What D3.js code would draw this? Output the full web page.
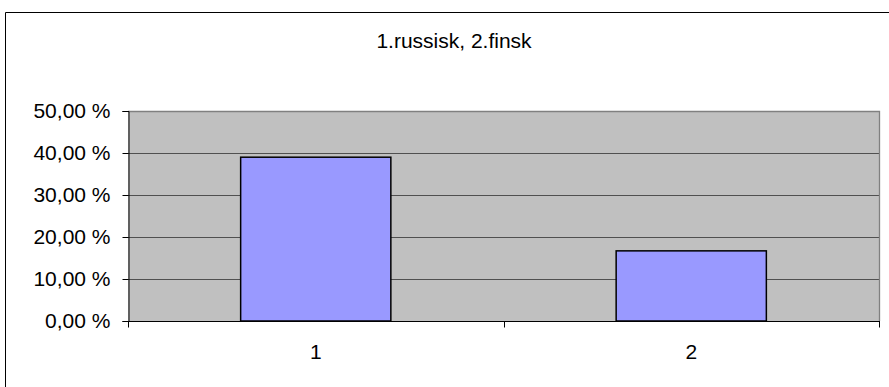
<!DOCTYPE html>
<html>
<head>
<meta charset="utf-8">
<script src="https://cdn.jsdelivr.net/npm/d3@7"></script>
<style>
  html, body { margin: 0; padding: 0; background: #fff; overflow: hidden; }
  svg { display: block; }
  text { font-family: "Liberation Sans", Arial, sans-serif; fill: #000; }
</style>
</head>
<body>
<svg id="chart" width="889" height="387"></svg>
<script>
// Share of respondents per language
const title = "1.russisk, 2.finsk";
const categories = ["1", "2"];
const values = [39.0, 16.7];
const yTicks = [0, 10, 20, 30, 40, 50];

const svg = d3.select("#chart");

// chart frame: only the left and top edges fall inside the view
svg.append("path")
  .attr("d", "M5.5,387V12.5H889")
  .attr("fill", "none").attr("stroke", "#000").attr("stroke-width", 1);

const plot = { left: 128, right: 879, top: 111, bottom: 321 };

const x = d3.scaleBand()
  .domain(categories)
  .range([plot.left, plot.right])
  .padding(0);

const y = d3.scaleLinear()
  .domain([0, 50])
  .range([plot.bottom, plot.top]);

// plot background
svg.append("rect")
  .attr("x", plot.left).attr("y", plot.top)
  .attr("width", plot.right - plot.left).attr("height", plot.bottom - plot.top)
  .attr("fill", "#c0c0c0");

// gridlines (the top one coincides with the grey plot border)
svg.append("g")
  .selectAll("line")
  .data(yTicks.filter(d => d > 0 && d < 50))
  .join("line")
  .attr("x1", plot.left).attr("x2", plot.right)
  .attr("y1", d => Math.round(y(d)) + 0.5)
  .attr("y2", d => Math.round(y(d)) + 0.5)
  .attr("stroke", "#505050").attr("stroke-width", 1);

// top and right edges of plot area
svg.append("path")
  .attr("d", `M${plot.left},${plot.top + 0.5}H${plot.right + 0.5}V${plot.bottom}`)
  .attr("fill", "none")
  .attr("stroke", "#808080").attr("stroke-width", 1.3);

// bars, 40% of each category band
const barFrac = 0.4;
svg.append("g")
  .selectAll("rect")
  .data(categories.map((c, i) => ({ c, v: values[i] })))
  .join("rect")
  .attr("x", d => x(d.c) + x.bandwidth() * (1 - barFrac) / 2)
  .attr("width", x.bandwidth() * barFrac)
  .attr("y", d => y(d.v))
  .attr("height", d => y(0) - y(d.v))
  .attr("fill", "#9999ff")
  .attr("stroke", "#000")
  .attr("stroke-width", 1.5);

// y axis
const fmt = d => d.toFixed(2).replace(".", ",") + " %";
const yAxis = svg.append("g")
  .attr("transform", `translate(${plot.left + 0.5},0)`)
  .call(d3.axisLeft(y).tickValues(yTicks).tickFormat(fmt).tickSize(6).tickPadding(12));
yAxis.select(".domain").attr("stroke", "#000");
yAxis.selectAll(".tick line").attr("stroke", "#000");
yAxis.selectAll("text")
  .attr("font-size", 21)
  .attr("font-family", "Liberation Sans, Arial, sans-serif")
  .attr("fill", "#000");

// x axis, tick marks sit at the category boundaries
const xAxisG = svg.append("g")
  .attr("transform", `translate(0,${plot.bottom + 0.5})`);
xAxisG.append("line")
  .attr("x1", plot.left).attr("x2", plot.right + 1)
  .attr("stroke", "#000");
const boundaries = categories.map(c => x(c)).concat([plot.right]);
xAxisG.selectAll("line.b")
  .data(boundaries)
  .join("line")
  .attr("class", "b")
  .attr("x1", d => Math.round(d) + 0.5).attr("x2", d => Math.round(d) + 0.5)
  .attr("y1", 0).attr("y2", 6)
  .attr("stroke", "#000");
xAxisG.selectAll("text")
  .data(categories)
  .join("text")
  .attr("x", d => x(d) + x.bandwidth() / 2)
  .attr("y", 37)
  .attr("text-anchor", "middle")
  .attr("font-size", 21)
  .text(d => d);

// title
svg.append("text")
  .attr("x", 454)
  .attr("y", 48)
  .attr("text-anchor", "middle")
  .attr("font-size", 21)
  .text(title);
</script>
</body>
</html>
